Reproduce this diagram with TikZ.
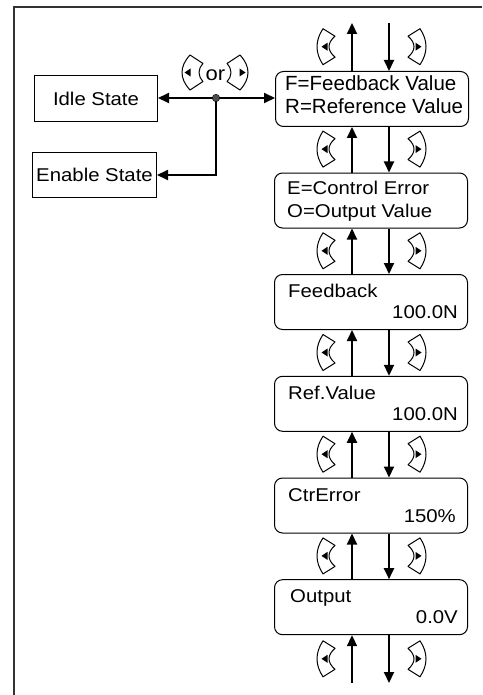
\documentclass[tikz,border=0pt]{standalone}
\usepackage{fontspec}
\setmainfont{Liberation Sans}[FakeStretch=1.1]
\newfontfamily\plainfont{Liberation Sans}
\usetikzlibrary{arrows.meta}
\begin{document}
\begin{tikzpicture}[x=1pt,y=-1pt,
  arr/.style={line width=2pt,-{Triangle[length=11pt,width=10pt]}},
  disp/.style={draw,line width=1pt,rounded corners=8pt,minimum width=193pt,minimum height=55pt,inner sep=0pt,anchor=north west},
  statebox/.style={draw,line width=1pt,inner sep=0pt,anchor=north west,font=\fontsize{18.5}{22}\selectfont},
  txt/.style={inner sep=0pt,font=\fontsize{18.5}{22}\selectfont},
  bigtxt/.style={inner sep=0pt,font=\plainfont\fontsize{20.5}{24}\selectfont},
  ortxt/.style={inner sep=0pt,font=\fontsize{20}{24}\selectfont},
  colicon/.pic={
    \draw[line width=1pt,line join=round] (6,-18) .. controls (-2,-6) and (-2,6) .. (6,18) -- (18,10.5) .. controls (10,3.5) and (10,-3.5) .. (18,-10.5) -- cycle;
    \fill (4.5,0) -- (10.5,-4) -- (10.5,4) -- cycle;
  },
  oricon/.pic={
    \draw[line width=1pt,line join=round] (8,-17.5) .. controls (-2.67,-5.83) and (-2.67,5.83) .. (8,17.5) -- (21,9) .. controls (15.67,3) and (15.67,-3) .. (21,-9) -- cycle;
    \fill (2.5,0) -- (8.5,-4) -- (8.5,4) -- cycle;
  }]
\useasboundingbox (0,0) rectangle (482,695);
% frame
\draw[line width=2pt,black!80] (14,700) -- (14,7) -- (482,7);

% display boxes
\node[disp] (b1) at (275,71) {};
\node[disp] (b2) at (274,172.5) {};
\node[disp] (b3) at (274,274) {};
\node[disp] (b4) at (274,375.8) {};
\node[disp] (b5) at (274,477.5) {};
\node[disp] (b6) at (274,579.2) {};

% texts
\node[bigtxt,anchor=base west] (t1a) at ([shift={(10,19.5)}]b1.north west) {F=Feedback Value};
\node[bigtxt,anchor=base west] (t1b) at ([shift={(10,42.5)}]b1.north west) {R=Reference Value};
\node[txt,anchor=base west] (t2a) at ([shift={(13,21.5)}]b2.north west) {E=Control Error};
\node[txt,anchor=base west] (t2b) at ([shift={(13,44.5)}]b2.north west) {O=Output Value};
\node[txt,anchor=base west] (t3a) at ([shift={(14,23.5)}]b3.north west) {Feedback};
\node[txt,anchor=base east] (t3b) at ([shift={(-10,44.5)}]b3.north east) {100.0N};
\node[txt,anchor=base west] (t4a) at ([shift={(14,23.5)}]b4.north west) {Ref.Value};
\node[txt,anchor=base east] (t4b) at ([shift={(-10,44.5)}]b4.north east) {100.0N};
\node[txt,anchor=base west] (t5a) at ([shift={(14,23.5)}]b5.north west) {CtrError};
\node[txt,anchor=base east] (t5b) at ([shift={(-12,44.5)}]b5.north east) {150\%};
\node[txt,anchor=base west] (t6a) at ([shift={(16,23.5)}]b6.north west) {Output};
\node[txt,anchor=base east] (t6b) at ([shift={(-10,44.5)}]b6.north east) {0.0V};

% arrow columns
\coordinate (ux) at (352,0);
\coordinate (dx) at (389,0);
\coordinate (topU) at (352,23);
\coordinate (topD) at (389,23);
\coordinate (botU) at (352,683);
\coordinate (botD) at (389,683);
\draw[arr] (b1.north -| ux) -- (topU);
\draw[arr] (topD) -- (b1.north -| dx);
\foreach \a/\b in {b1/b2,b2/b3,b3/b4,b4/b5,b5/b6}{
  \draw[arr] (\b.north -| ux) -- (\a.south -| ux);
  \draw[arr] (\a.south -| dx) -- (\b.north -| dx);
}
\draw[arr] (botU) -- (b6.south -| ux);
\draw[arr] (b6.south -| dx) -- (botD);

% key icons
\foreach \cy in {46.7,149.1,250.8,352.5,454.2,555.9,658.8}{
  \pic at (317,\cy) {colicon};
  \pic[xscale=-1] at (426,\cy) {colicon};
}

% left side
\node[statebox,minimum width=123pt,minimum height=46pt] (idle) at (34,75) {Idle State};
\node[statebox,minimum width=124pt,minimum height=45pt] (enable) at (32,152) {Enable State};
\coordinate (j) at (216,98);
\draw[arr] (j) -- (idle.east |- j);
\draw[arr] (j) -- (b1.west |- j);
\draw[arr] (j) |- (enable.east);
\node[circle,draw=black,fill=black!70,inner sep=0pt,minimum size=7.5pt] (dot) at (j) {};
\pic at (182,72.5) {oricon};
\pic[xscale=-1] at (248,72.5) {oricon};
\node[ortxt,anchor=base] (or) at (215.5,81) {or};
\end{tikzpicture}
\end{document}
